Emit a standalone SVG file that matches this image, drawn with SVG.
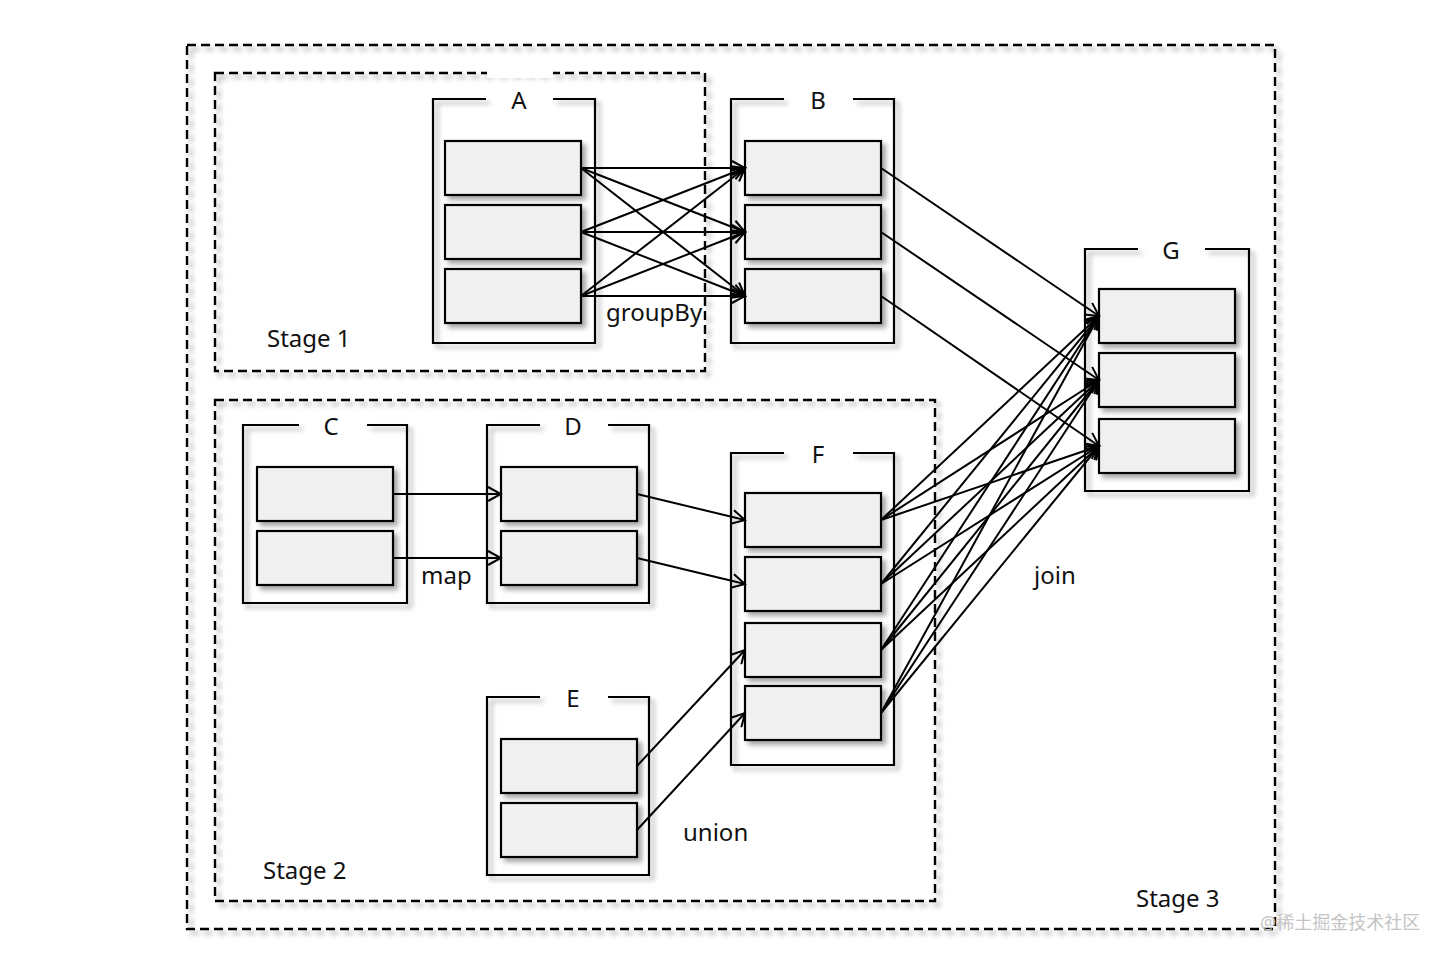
<svg xmlns="http://www.w3.org/2000/svg" width="1444" height="958" viewBox="0 0 1444 958">
<style>
.stage{fill:none;stroke:#000;stroke-width:2.4;stroke-dasharray:9 5;filter:url(#sh)}
.cont{fill:none;stroke:#000;stroke-width:2.2;filter:url(#sh)}
.part{fill:#f0f0f0;stroke:#000;stroke-width:2.2;filter:url(#sh)}
.t{font-family:"Noto Sans","Open Sans",sans-serif;font-size:24px;fill:#111}
.ttl{font-family:"Noto Sans","Open Sans",sans-serif;font-size:24px;fill:#111;text-anchor:middle}
#connectors line{stroke:#000;stroke-width:2;marker-end:url(#arr)}
</style>
<defs>
<filter id="sh" x="-10%" y="-10%" width="130%" height="130%">
<feDropShadow dx="4" dy="4" stdDeviation="2.5" flood-color="#000" flood-opacity="0.35"/>
</filter>
<marker id="arr" markerUnits="userSpaceOnUse" markerWidth="16" markerHeight="16" refX="14" refY="8" orient="auto" viewBox="0 0 16 16">
<path d="M1,1 L14,8 L1,15" fill="none" stroke="#000" stroke-width="2"/>
</marker>
</defs>
<rect width="1444" height="958" fill="#fff"/>

<g id="stage3">
<rect class="stage" x="187" y="45" width="1088" height="884"/>
<text class="t" x="1136" y="907">Stage 3</text>
</g>
<g id="stage1">
<rect class="stage" x="215" y="73" width="490" height="298"/>
<rect x="487" y="69" width="66" height="9" fill="#fff"/>
<text class="t" x="267" y="347">Stage 1</text>
</g>
<g id="stage2">
<rect class="stage" x="215" y="400" width="720" height="501"/>
<text class="t" x="263" y="879">Stage 2</text>
</g>

<g id="A">
<path class="cont" d="M486,99 H433 V343 H595 V99 H553"/>
<text class="ttl" x="519" y="109">A</text>
<rect class="part" x="445" y="141" width="136" height="54"/>
<rect class="part" x="445" y="205" width="136" height="54"/>
<rect class="part" x="445" y="269" width="136" height="54"/>
</g>
<g id="B">
<path class="cont" d="M784,99 H731 V343 H894 V99 H853"/>
<text class="ttl" x="818" y="109">B</text>
<rect class="part" x="745" y="141" width="136" height="54"/>
<rect class="part" x="745" y="205" width="136" height="54"/>
<rect class="part" x="745" y="269" width="136" height="54"/>
</g>
<g id="G">
<path class="cont" d="M1138,249 H1085 V491 H1249 V249 H1205"/>
<text class="ttl" x="1171" y="259">G</text>
<rect class="part" x="1099" y="289" width="136" height="54"/>
<rect class="part" x="1099" y="353" width="136" height="54"/>
<rect class="part" x="1099" y="419" width="136" height="54"/>
</g>
<g id="C">
<path class="cont" d="M299,425 H243 V603 H407 V425 H367"/>
<text class="ttl" x="331" y="435">C</text>
<rect class="part" x="257" y="467" width="136" height="54"/>
<rect class="part" x="257" y="531" width="136" height="54"/>
</g>
<g id="D">
<path class="cont" d="M540,425 H487 V603 H649 V425 H608"/>
<text class="ttl" x="573" y="435">D</text>
<rect class="part" x="501" y="467" width="136" height="54"/>
<rect class="part" x="501" y="531" width="136" height="54"/>
</g>
<g id="F">
<path class="cont" d="M784,453 H731 V765 H894 V453 H853"/>
<text class="ttl" x="818" y="463">F</text>
<rect class="part" x="745" y="493" width="136" height="54"/>
<rect class="part" x="745" y="557" width="136" height="54"/>
<rect class="part" x="745" y="623" width="136" height="54"/>
<rect class="part" x="745" y="686" width="136" height="54"/>
</g>
<g id="E">
<path class="cont" d="M540,697 H487 V875 H649 V697 H608"/>
<text class="ttl" x="573" y="707">E</text>
<rect class="part" x="501" y="739" width="136" height="54"/>
<rect class="part" x="501" y="803" width="136" height="54"/>
</g>

<g id="connectors">
<line x1="581" y1="168" x2="745" y2="168"/>
<line x1="581" y1="168" x2="745" y2="232"/>
<line x1="581" y1="168" x2="745" y2="296"/>
<line x1="581" y1="232" x2="745" y2="168"/>
<line x1="581" y1="232" x2="745" y2="232"/>
<line x1="581" y1="232" x2="745" y2="296"/>
<line x1="581" y1="296" x2="745" y2="168"/>
<line x1="581" y1="296" x2="745" y2="232"/>
<line x1="581" y1="296" x2="745" y2="296"/>
<line x1="881" y1="168" x2="1099" y2="316"/>
<line x1="881" y1="232" x2="1099" y2="380"/>
<line x1="881" y1="296" x2="1099" y2="446"/>
<line x1="393" y1="494" x2="501" y2="494"/>
<line x1="393" y1="558" x2="501" y2="558"/>
<line x1="637" y1="494" x2="745" y2="520"/>
<line x1="637" y1="558" x2="745" y2="584"/>
<line x1="637" y1="766" x2="745" y2="650"/>
<line x1="637" y1="830" x2="745" y2="713"/>
<line x1="881" y1="520" x2="1099" y2="316"/>
<line x1="881" y1="520" x2="1099" y2="380"/>
<line x1="881" y1="520" x2="1099" y2="446"/>
<line x1="881" y1="584" x2="1099" y2="316"/>
<line x1="881" y1="584" x2="1099" y2="380"/>
<line x1="881" y1="584" x2="1099" y2="446"/>
<line x1="881" y1="650" x2="1099" y2="316"/>
<line x1="881" y1="650" x2="1099" y2="380"/>
<line x1="881" y1="650" x2="1099" y2="446"/>
<line x1="881" y1="713" x2="1099" y2="316"/>
<line x1="881" y1="713" x2="1099" y2="380"/>
<line x1="881" y1="713" x2="1099" y2="446"/>
</g>

<g id="labels">
<text class="t" x="606" y="321">groupBy</text>
<text class="t" x="421" y="584">map</text>
<text class="t" x="683" y="841">union</text>
<text class="t" x="1034" y="584">join</text>
<text x="1260" y="929" font-family="'Noto Sans','Noto Sans CJK SC',sans-serif" font-size="18" fill="#c4c4c4">@稀土掘金技术社区</text>
</g>
</svg>
